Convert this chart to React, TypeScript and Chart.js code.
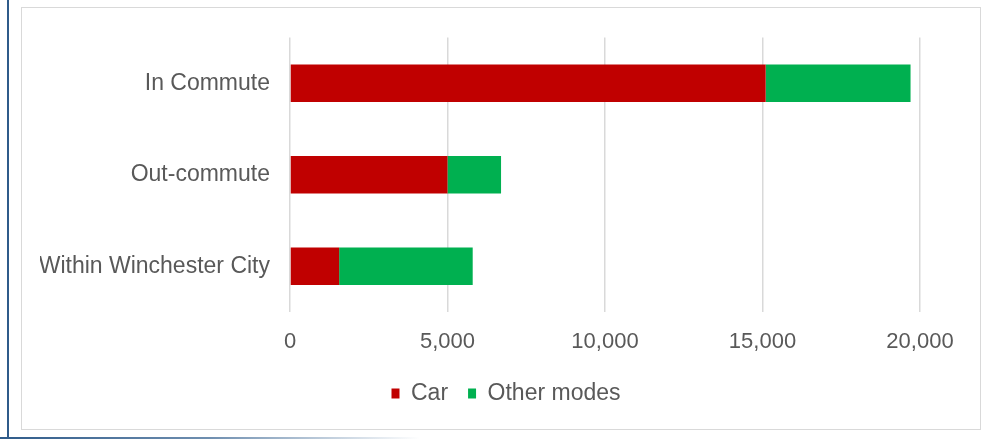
import React, { useEffect, useRef } from "react";
import { Chart, registerables } from "chart.js";

Chart.register(...registerables);

const categories = ["In Commute", "Out-commute", "Within Winchester City"];
const carValues = [15100, 5000, 1560];
const otherValues = [4600, 1700, 4240];
const seriesNames = ["Car", "Other modes"];
const xTicks = [0, 5000, 10000, 15000, 20000];

const FONT = "'Liberation Sans', Arial, sans-serif";
const TEXT = "#595959";

const legendShift = {
  id: "legendShift",
  afterLayout(chart: any) {
    const lg = chart.legend;
    if (lg) lg.left += 52;
  },
};

export default function App() {
  const ref = useRef<HTMLCanvasElement | null>(null);

  useEffect(() => {
    if (!ref.current) return;
    const chart = new Chart(ref.current, {
      type: "bar",
      data: {
        labels: categories,
        datasets: [
          {
            label: seriesNames[0],
            data: carValues,
            backgroundColor: "#C00000",
            borderWidth: 0,
            categoryPercentage: 1,
            barPercentage: 0.41,
          },
          {
            label: seriesNames[1],
            data: otherValues,
            backgroundColor: "#00B050",
            borderWidth: 0,
            categoryPercentage: 1,
            barPercentage: 0.41,
          },
        ],
      },
      plugins: [legendShift],
      options: {
        indexAxis: "y",
        animation: false,
        responsive: false,
        maintainAspectRatio: false,
        layout: { padding: { left: 18, right: 60, top: 29.5, bottom: 14 } },
        scales: {
          x: {
            stacked: true,
            min: xTicks[0],
            max: xTicks[xTicks.length - 1],
            afterBuildTicks: (axis: any) => {
              axis.ticks = xTicks.map((v) => ({ value: v }));
            },
            afterFit: (axis: any) => {
              axis.height = axis.height - 10.5;
            },
            grid: { color: "#d9d9d9", lineWidth: 1.5, drawTicks: false },
            border: { display: false },
            ticks: {
              color: TEXT,
              font: { family: FONT, size: 22 },
              padding: 17,
              maxRotation: 0,
              callback: (v: any) => Number(v).toLocaleString("en-US"),
            },
          },
          y: {
            stacked: true,
            afterFit: (axis: any) => {
              axis.width = 250;
              axis.paddingTop = 0;
              axis.paddingBottom = 0;
            },
            grid: { display: false, drawTicks: false },
            border: { display: false },
            ticks: {
              color: TEXT,
              font: { family: FONT, size: 23 },
              padding: 20,
            },
          },
        },
        plugins: {
          legend: {
            position: "bottom",
            labels: {
              color: TEXT,
              font: { family: FONT, size: 23 },
              boxWidth: 8,
              boxHeight: 10,
              padding: 20,
            },
          },
          tooltip: { enabled: false },
        },
      },
    });
    return () => chart.destroy();
  }, []);

  return (
    <div
      style={{
        position: "absolute",
        left: 0,
        top: 0,
        width: 986,
        height: 440,
        background: "#fff",
        overflow: "hidden",
      }}
    >
      <div
        style={{
          position: "absolute",
          left: 7,
          top: 0,
          width: 2,
          height: 439,
          background: "#2F5B8A",
        }}
      />
      <div
        style={{
          position: "absolute",
          left: 0,
          top: 437,
          width: 420,
          height: 2,
          background: "linear-gradient(to right, #2F5B8A 0%, #6f8fb0 50%, rgba(200,210,225,0) 100%)",
        }}
      />
      <div
        style={{
          position: "absolute",
          left: 21,
          top: 7,
          width: 958,
          height: 421,
          border: "1.5px solid #d9d9d9",
        }}
      >
        <canvas ref={ref} width={958} height={421} style={{ display: "block" }} />
      </div>
    </div>
  );
}
